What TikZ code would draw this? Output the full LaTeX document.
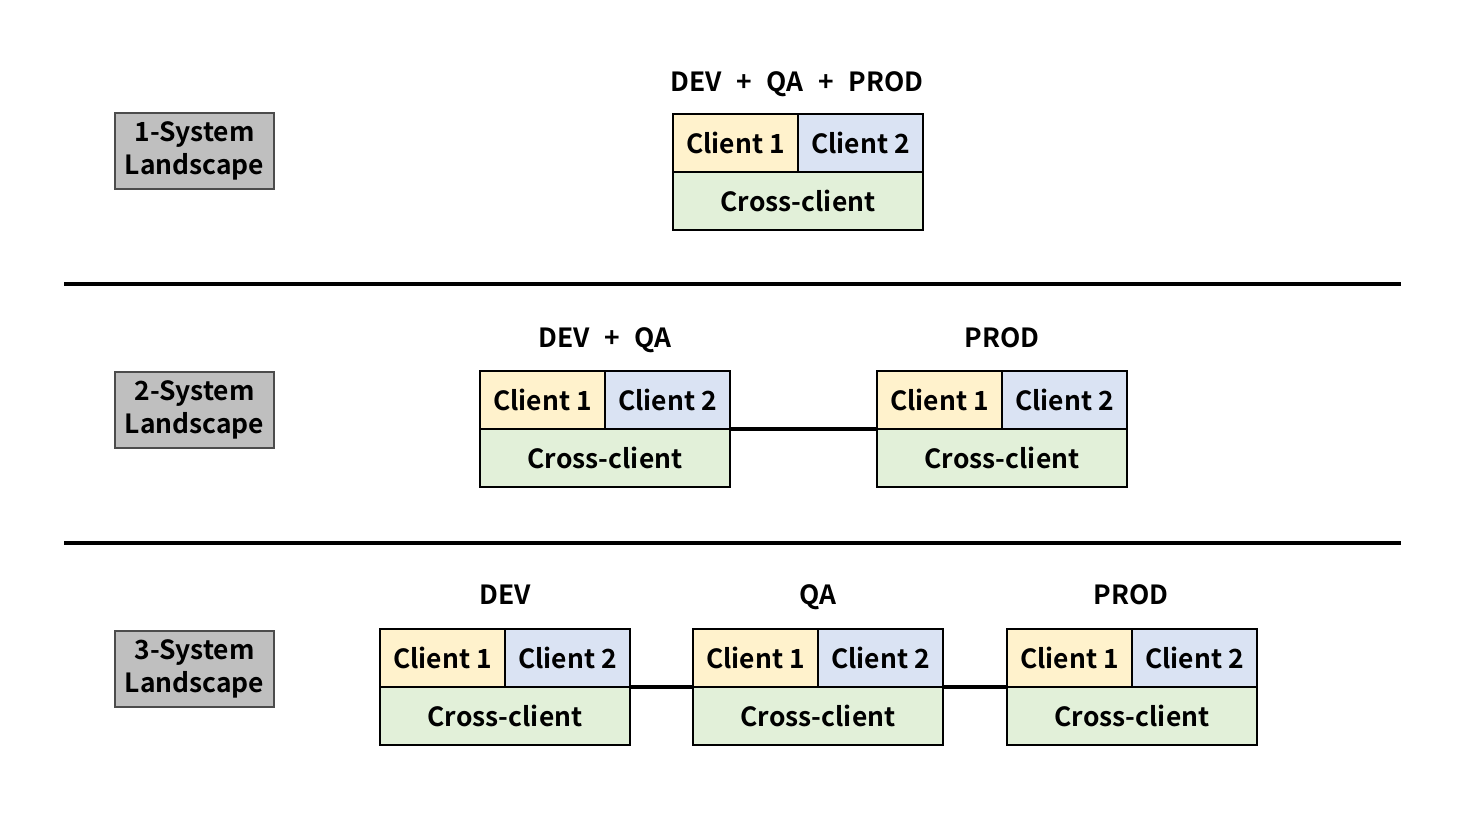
\documentclass[tikz,border=0pt]{standalone}
\usepackage{fontspec}
\setmainfont{Noto Sans CJK KR}[BoldFont={* Bold}]
\usetikzlibrary{positioning}

\definecolor{landgray}{HTML}{BFBFBF}
\definecolor{clientone}{HTML}{FFF2CC}
\definecolor{clienttwo}{HTML}{DAE3F3}
\definecolor{crossgreen}{HTML}{E2F0D9}

\tikzset{
  txt/.style={font=\bfseries\fontsize{13.2}{15}\selectfont},
  landbox/.style={draw=black!70, line width=0.6pt, fill=landgray, minimum width=79.5pt, minimum height=38pt, inner sep=0pt, align=center, font=\bfseries\fontsize{13.2}{16.5}\selectfont},
  cell/.style={txt, draw, line width=1pt, minimum width=62.5pt, minimum height=29pt, inner sep=0pt, outer sep=0pt},
  cone/.style={cell, fill=clientone},
  ctwo/.style={cell, fill=clienttwo},
  cross/.style={cell, fill=crossgreen, minimum width=125pt},
  title/.style={txt, anchor=base, inner sep=0pt},
  sep/.style={line width=2pt},
  conn/.style={line width=2pt}
}
\newcommand{\plus}{\hspace{0.55em}+\hspace{0.55em}}

\begin{document}
\begin{tikzpicture}[x=0.5pt, y=-0.5pt]
\useasboundingbox (0,0) rectangle (1467,825);

% 1-system landscape
\node[landbox] (land1) at (194.5,151) {1-System\\Landscape};
\node[title] (t1) at (797,91) {DEV\plus QA\plus PROD};
\node[cone, anchor=north west] (s1c1) at (673,114) {Client 1};
\node[ctwo, right=0pt of s1c1] (s1c2) {Client 2};
\node[cross, anchor=north west] (s1x) at (s1c1.south west) {Cross-client};

\draw[sep] (64,284) -- (1401,284);

% 2-system landscape
\node[landbox] (land2) at (194.5,410) {2-System\\Landscape};
\node[title] (t2a) at (605,347) {DEV\plus QA};
\node[cone, anchor=north west] (s2ac1) at (480,371) {Client 1};
\node[ctwo, right=0pt of s2ac1] (s2ac2) {Client 2};
\node[cross, anchor=north west] (s2ax) at (s2ac1.south west) {Cross-client};

\node[title] (t2b) at (1002,347) {PROD};
\node[cone, anchor=north west] (s2bc1) at (877,371) {Client 1};
\node[ctwo, right=0pt of s2bc1] (s2bc2) {Client 2};
\node[cross, anchor=north west] (s2bx) at (s2bc1.south west) {Cross-client};

\draw[conn] (s2ax.north east) -- (s2bx.north west);

\draw[sep] (64,543) -- (1401,543);

% 3-system landscape
\node[landbox] (land3) at (194.5,669) {3-System\\Landscape};
\node[title] (t3a) at (505,604) {DEV};
\node[cone, anchor=north west] (s3ac1) at (380,629) {Client 1};
\node[ctwo, right=0pt of s3ac1] (s3ac2) {Client 2};
\node[cross, anchor=north west] (s3ax) at (s3ac1.south west) {Cross-client};

\node[title] (t3b) at (818,604) {QA};
\node[cone, anchor=north west] (s3bc1) at (693,629) {Client 1};
\node[ctwo, right=0pt of s3bc1] (s3bc2) {Client 2};
\node[cross, anchor=north west] (s3bx) at (s3bc1.south west) {Cross-client};

\node[title] (t3c) at (1131,604) {PROD};
\node[cone, anchor=north west] (s3cc1) at (1007,629) {Client 1};
\node[ctwo, right=0pt of s3cc1] (s3cc2) {Client 2};
\node[cross, anchor=north west] (s3cx) at (s3cc1.south west) {Cross-client};

\draw[conn] (s3ax.north east) -- (s3bx.north west);
\draw[conn] (s3bx.north east) -- (s3cx.north west);
\end{tikzpicture}
\end{document}
